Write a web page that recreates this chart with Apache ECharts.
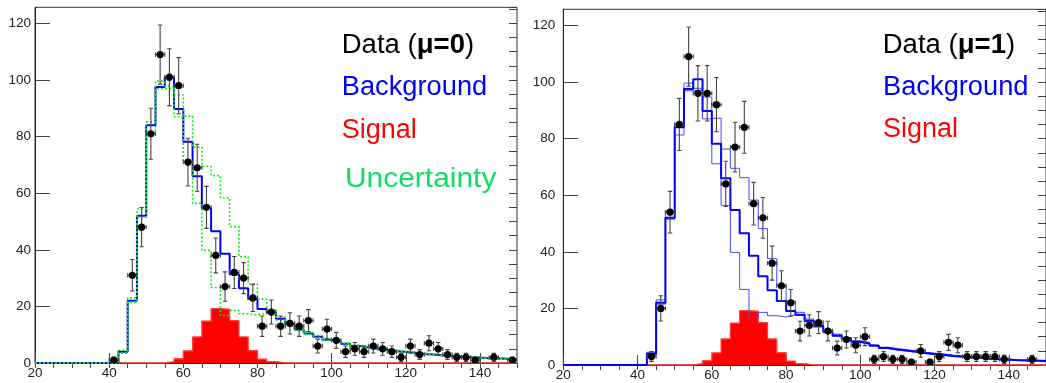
<!DOCTYPE html>
<html><head><meta charset="utf-8">
<script src="https://cdn.jsdelivr.net/npm/echarts@6/dist/echarts.min.js"></script>
<style>html,body{margin:0;padding:0;background:#fff;}#c{width:1046px;height:383px;}</style>
</head><body><div id="c"></div>
<script>
// ---- binning: 52 bins of width 2.5 from 20 to 150 ----
const binStart = 20;
const binWidth = 2.5;
const xTickLabels = [20, 40, 60, 80, 100, 120, 140];
const yTickLabels = [0, 20, 40, 60, 80, 100, 120];

// background expectation (thick blue), per bin
const background = [0,0,0,0,0,0,0,0,0, 4,22,52,84,97.5,101,89.8,78.2,66,54.8,46.6,38.6,31.4,26.4,22.6,19.1,17.8,15.6,13.8,11.8,10.4,9.3,8.2,7.6,6.8,6.0,5.5,5.1,4.7,4.2,3.9,3.6,3.2,3.0,2.7,2.5,2.2,2.0,1.9,1.7,1.6,1.5,1.4];
// uncertainty variation that is higher in the tail
const uncUp = [0,0,0,0,0,0,0,0,0, 3.5,21.5,51.5,81.3,96.9,97.2,94.7,87.2,76.3,69.5,66.2,58.3,48.2,37.6,28,22.6,18.6,16.2,14.3,12.4,10.9,9.7,8.6,7.9,7.1,6.3,5.8,5.4,5.0,4.5,4.2,3.9,3.5,3.2,2.9,2.7,2.4,2.2,2.1,1.9,1.8,1.7,1.6];
// uncertainty variation that is lower in the tail
const uncDown = [0,0,0,0,0,0,0,0,0, 4.5,23,54.4,85.2,99.6,97.8,87.0,71.1,56.4,39.8,26.7,16.8,18.6,17.4,17.0,17.6,17.4,15.2,13.4,11.5,10.1,9.0,8.0,7.3,6.6,5.8,5.3,4.9,4.5,4.0,3.7,3.4,3.0,2.8,2.5,2.3,2.0,1.9,1.7,1.6,1.5,1.4,1.3];
// signal (red filled)
const signal = [0,0,0,0,0,0,0,0,0,0,0,0,0,0, 0.5,1.5,4.3,9.2,14.8,19.2,19.0,15.0,9.2,4.4,1.4,0.5, 0,0,0,0,0,0,0,0,0,0,0,0,0,0,0,0,0,0,0,0,0,0,0,0,0,0];
// observed data (null = empty bin, not drawn)
const dataMu0 = [null,null,null,null,null,null,null,null, 1,null,31,48,81,109,101,98,71,69,55,38,27,32,30,23,13,18,13,14,13,15,6,12,8,4,5,4,6,5,4,2,6,3,7,5,3,2,2,1,null,2,null,1];
const dataMu1 = [null,null,null,null,null,null,null,null, null,3,20,54,85,109,96,96,92,64,77,84,57,52,36,28,22,12,14,15,12,6,9,7,10,2,3,2,2,1,5,1,3,8,7,3,3,3,3,2,null,null,2,null];

const FONT = 'Liberation Sans, Arial, Helvetica, sans-serif';

function steps(vals){
  const pts = [];
  vals.forEach((v,i)=>{ const lo = binStart + i*binWidth; pts.push([lo, v]); pts.push([lo+binWidth, v]); });
  return pts;
}
function points(vals){
  const pts = [];
  vals.forEach((v,i)=>{ if(v!==null) pts.push([binStart + (i+0.5)*binWidth, v]); });
  return pts;
}

const grids = [
  {left:35, top:7.3, width:482, height:355.7, show:true, borderColor:'#333', borderWidth:1, backgroundColor:'transparent'},
  {left:563.3, top:9.3, width:487.5, height:355.7, show:true, borderColor:'#333', borderWidth:1, backgroundColor:'transparent'}
];

const xAxes = [], yAxes = [];
[0,1].forEach(g=>{
  xAxes.push({gridIndex:g, type:'value', min:20, max:150, interval:20, splitLine:{show:false},
    axisLine:{show:true, lineStyle:{color:'#222', width:1}},
    axisTick:{show:true, inside:true, length:10, lineStyle:{color:'#444'}},
    axisLabel:{show:true, margin:3, fontFamily:FONT, fontSize:13.5, color:'#222', showMaxLabel:false,
      formatter:(v)=> xTickLabels.includes(v) ? String(v) : ''}});
  xAxes.push({gridIndex:g, type:'value', min:20, max:150, interval:5, splitLine:{show:false},
    axisLine:{show:false}, axisLabel:{show:false},
    axisTick:{show:true, inside:true, length:5, lineStyle:{color:'#444'}}});
  yAxes.push({gridIndex:g, type:'value', min:0, max:125.7, interval:20, splitLine:{show:false},
    axisLine:{show:true, lineStyle:{color:'#222', width:1}},
    axisTick:{show:true, inside:true, length:15, lineStyle:{color:'#444'}},
    axisLabel:{show:true, margin: g===0?4:8, fontFamily:FONT, fontSize:13.5, color:'#222', showMaxLabel:false,
      formatter:(v)=> yTickLabels.includes(v) ? String(v) : ''}});
  yAxes.push({gridIndex:g, type:'value', min:0, max:125.7, interval:5, splitLine:{show:false},
    axisLine:{show:false}, axisLabel:{show:false},
    axisTick:{show:true, inside:true, length:8, lineStyle:{color:'#444'}}});
});

function dataSeries(vals, ax){
  return {type:'custom', xAxisIndex:ax, yAxisIndex:ax, z:10, clip:true,
    data: points(vals),
    renderItem(params, api){
      const x = api.value(0), y = api.value(1);
      const err = Math.sqrt(y); // Poisson error as in the original
      const c = api.coord([x,y]);
      const t = api.coord([x, y+err]);
      const b = api.coord([x, Math.max(0, y-err)]);
      const l = api.coord([x-binWidth/2, y]);
      const r = api.coord([x+binWidth/2, y]);
      const st = {stroke:'#444', lineWidth:1.1};
      const cap = 2.2;
      return {type:'group', children:[
        {type:'line', shape:{x1:c[0],y1:t[1],x2:c[0],y2:b[1]}, style:st},
        {type:'line', shape:{x1:c[0]-cap,y1:t[1],x2:c[0]+cap,y2:t[1]}, style:st},
        {type:'line', shape:{x1:c[0]-cap,y1:b[1],x2:c[0]+cap,y2:b[1]}, style:st},
        {type:'line', shape:{x1:l[0],y1:c[1],x2:r[0],y2:c[1]}, style:st},
        {type:'line', shape:{x1:l[0],y1:c[1]-cap,x2:l[0],y2:c[1]+cap}, style:st},
        {type:'line', shape:{x1:r[0],y1:c[1]-cap,x2:r[0],y2:c[1]+cap}, style:st},
        {type:'circle', shape:{cx:c[0], cy:c[1], r:3.6}, style:{fill:'#000'}}
      ]};
    }};
}

function stepLine(vals, ax, style, z, area){
  const s = {type:'line', xAxisIndex:ax, yAxisIndex:ax, data:steps(vals), showSymbol:false, symbol:'none',
    lineStyle:style, z:z, silent:true, animation:false, clip:true};
  if(area) s.areaStyle = {color:'#ff0000', opacity:1, origin:0};
  return s;
}

const series = [];
// left panel (axes 0)
series.push(stepLine(signal, 0, {color:'#ff4040', width:1.3}, 2, true));
series.push(stepLine(uncUp, 0, {color:'#11ee11', width:1.6, type:[2,2]}, 4));
series.push(stepLine(uncDown, 0, {color:'#11ee11', width:1.6, type:[2,2]}, 4));
series.push(stepLine(background, 0, {color:'#0000ff', width:2}, 3));
series.push(dataSeries(dataMu0, 0));
// right panel (axes 2)
series.push(stepLine(signal, 2, {color:'#ff4040', width:1.3}, 2, true));
series.push(stepLine(uncUp, 2, {color:'#4848ff', width:1}, 3));
series.push(stepLine(uncDown, 2, {color:'#4848ff', width:1}, 3));
series.push(stepLine(background, 2, {color:'#0000ff', width:2}, 4));
series.push(dataSeries(dataMu1, 2));

function legendText(x, y, text, color, rich, size, sx){
  const style = {text:text, x:0, y:0, fill:color, fontFamily:FONT, fontSize:size||27, verticalAlign:'middle', align:'left'};
  if(rich) style.rich = rich;
  return {type:'text', x:x, y:y, scaleX:sx||1, z:100, style:style};
}
const rich = {r:{fontFamily:FONT, fontSize:27, fill:'#000'}, b:{fontFamily:FONT, fontSize:27, fontWeight:'bold', fill:'#000'}};

const option = {
  animation:false,
  backgroundColor:'#fff',
  grid: grids, xAxis: xAxes, yAxis: yAxes, series: series,
  graphic: [
    legendText(341.7, 46, '{r|Data (}{b|μ=0}{r|)}', '#000', rich, 27, 1.02),
    legendText(341.7, 88, 'Background', '#0000ff', null, 27, 1.01),
    legendText(341.7, 131, 'Signal', '#ff0000'),
    legendText(345, 179, 'Uncertainty', '#11dd66', null, 28.5, 1.05),
    legendText(882.7, 46, '{r|Data (}{b|μ=1}{r|)}', '#000', rich, 27, 1.02),
    legendText(883, 88, 'Background', '#0000ff', null, 27, 1.01),
    legendText(883, 130, 'Signal', '#ff0000')
  ]
};
const chart = echarts.init(document.getElementById('c'));
chart.setOption(option);
</script></body></html>
